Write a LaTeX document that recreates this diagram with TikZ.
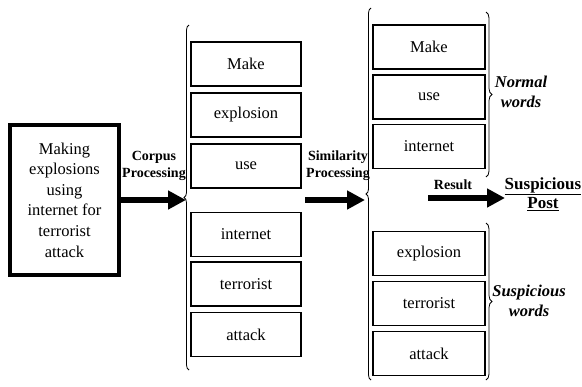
\documentclass[tikz,border=0pt]{standalone}
\usepackage{fontspec}
\setmainfont{Liberation Serif}
\usetikzlibrary{arrows.meta,decorations.pathreplacing}
\tikzset{
  wordbox/.style={draw=black, line width=1.6bp, minimum width=#1, minimum height=44bp, inner sep=0pt, font=\fontsize{16.5bp}{19bp}\selectfont},
  wordbox/.default=110bp,
  bigarrow/.style={line width=6bp, -{Triangle[length=18bp,width=18bp]}},
  lbl/.style={font=\fontsize{14bp}{17bp}\selectfont\bfseries, align=center, inner sep=0pt},
  side/.style={font=\fontsize{16.5bp}{20bp}\selectfont\bfseries\itshape, align=center, inner sep=0pt},
  curly/.style={decorate, line width=0.8bp, decoration={brace, amplitude=#1}},
  curly/.default=5bp
}
\begin{document}
\begin{tikzpicture}[x=1bp,y=-1bp]
\useasboundingbox (0,0) rectangle (582,386);
% input box
\node[draw, line width=3.4bp, minimum width=109bp, minimum height=150bp, inner sep=0pt, align=center,
      font=\fontsize{16.5bp}{20.6bp}\selectfont] (in) at (64.5,200)
  {Making\\explosions\\using\\internet for\\terrorist\\attack};
% middle column
\node[wordbox] (m1) at (246,64) {Make};
\node[wordbox] (m2) at (246,115) {explosion};
\node[wordbox] (m3) at (246,166) {use};
\node[wordbox] (m4) at (246,234.5) {internet};
\node[wordbox] (m5) at (246,284) {terrorist};
\node[wordbox] (m6) at (246,334.5) {attack};
% right column
\node[wordbox=112bp] (r1) at (429,47) {Make};
\node[wordbox=112bp] (r2) at (429,97) {use};
\node[wordbox=112bp] (r3) at (429,146.5) {internet};
\node[wordbox=112bp] (r4) at (429,253.5) {explosion};
\node[wordbox=112bp] (r5) at (429,303.5) {terrorist};
\node[wordbox=112bp] (r6) at (429,353.5) {attack};
% braces
\coordinate (b1bot) at (189,370);
\coordinate (b1top) at (189,25);
\draw[curly] (b1bot) -- (b1top);
\coordinate (b1tip) at (184,197.5);
\coordinate (b2bot) at (371,380);
\coordinate (b2top) at (371,8);
\draw[curly] (b2bot) -- (b2top);
\coordinate (b2tip) at (366,194);
\coordinate (n1) at (486,12);
\coordinate (n2) at (486,177);
\draw[curly=6bp] (n1) -- (n2);
\coordinate (s1) at (486,223);
\coordinate (s2) at (486,380);
\draw[curly=6bp] (s1) -- (s2);
% arrows
\draw[bigarrow] (in.east |- 0,200) -- (186,200);
\coordinate (sa) at (305,200);
\draw[bigarrow] (sa) -- (365,200);
\coordinate (ra) at (428,198);
\node[inner sep=0pt] (post) at (543,195)
  {\fontsize{17bp}{20bp}\selectfont\bfseries\begin{tabular}{@{}c@{}}\underline{Suspicious}\\[-1bp]\underline{Post}\end{tabular}};
\draw[bigarrow] (ra) -- (505,198);
% labels
\node[lbl] (lc) at (154,166) {Corpus\\Processing};
\node[lbl] (ls) at (338,166) {Similarity\\Processing};
\node[lbl] (lr) at (453,185) {Result};
\node[side] (nw) at (521,92) {Normal\\words};
\node[side] (sw) at (529,301) {Suspicious\\words};
\end{tikzpicture}
\end{document}
